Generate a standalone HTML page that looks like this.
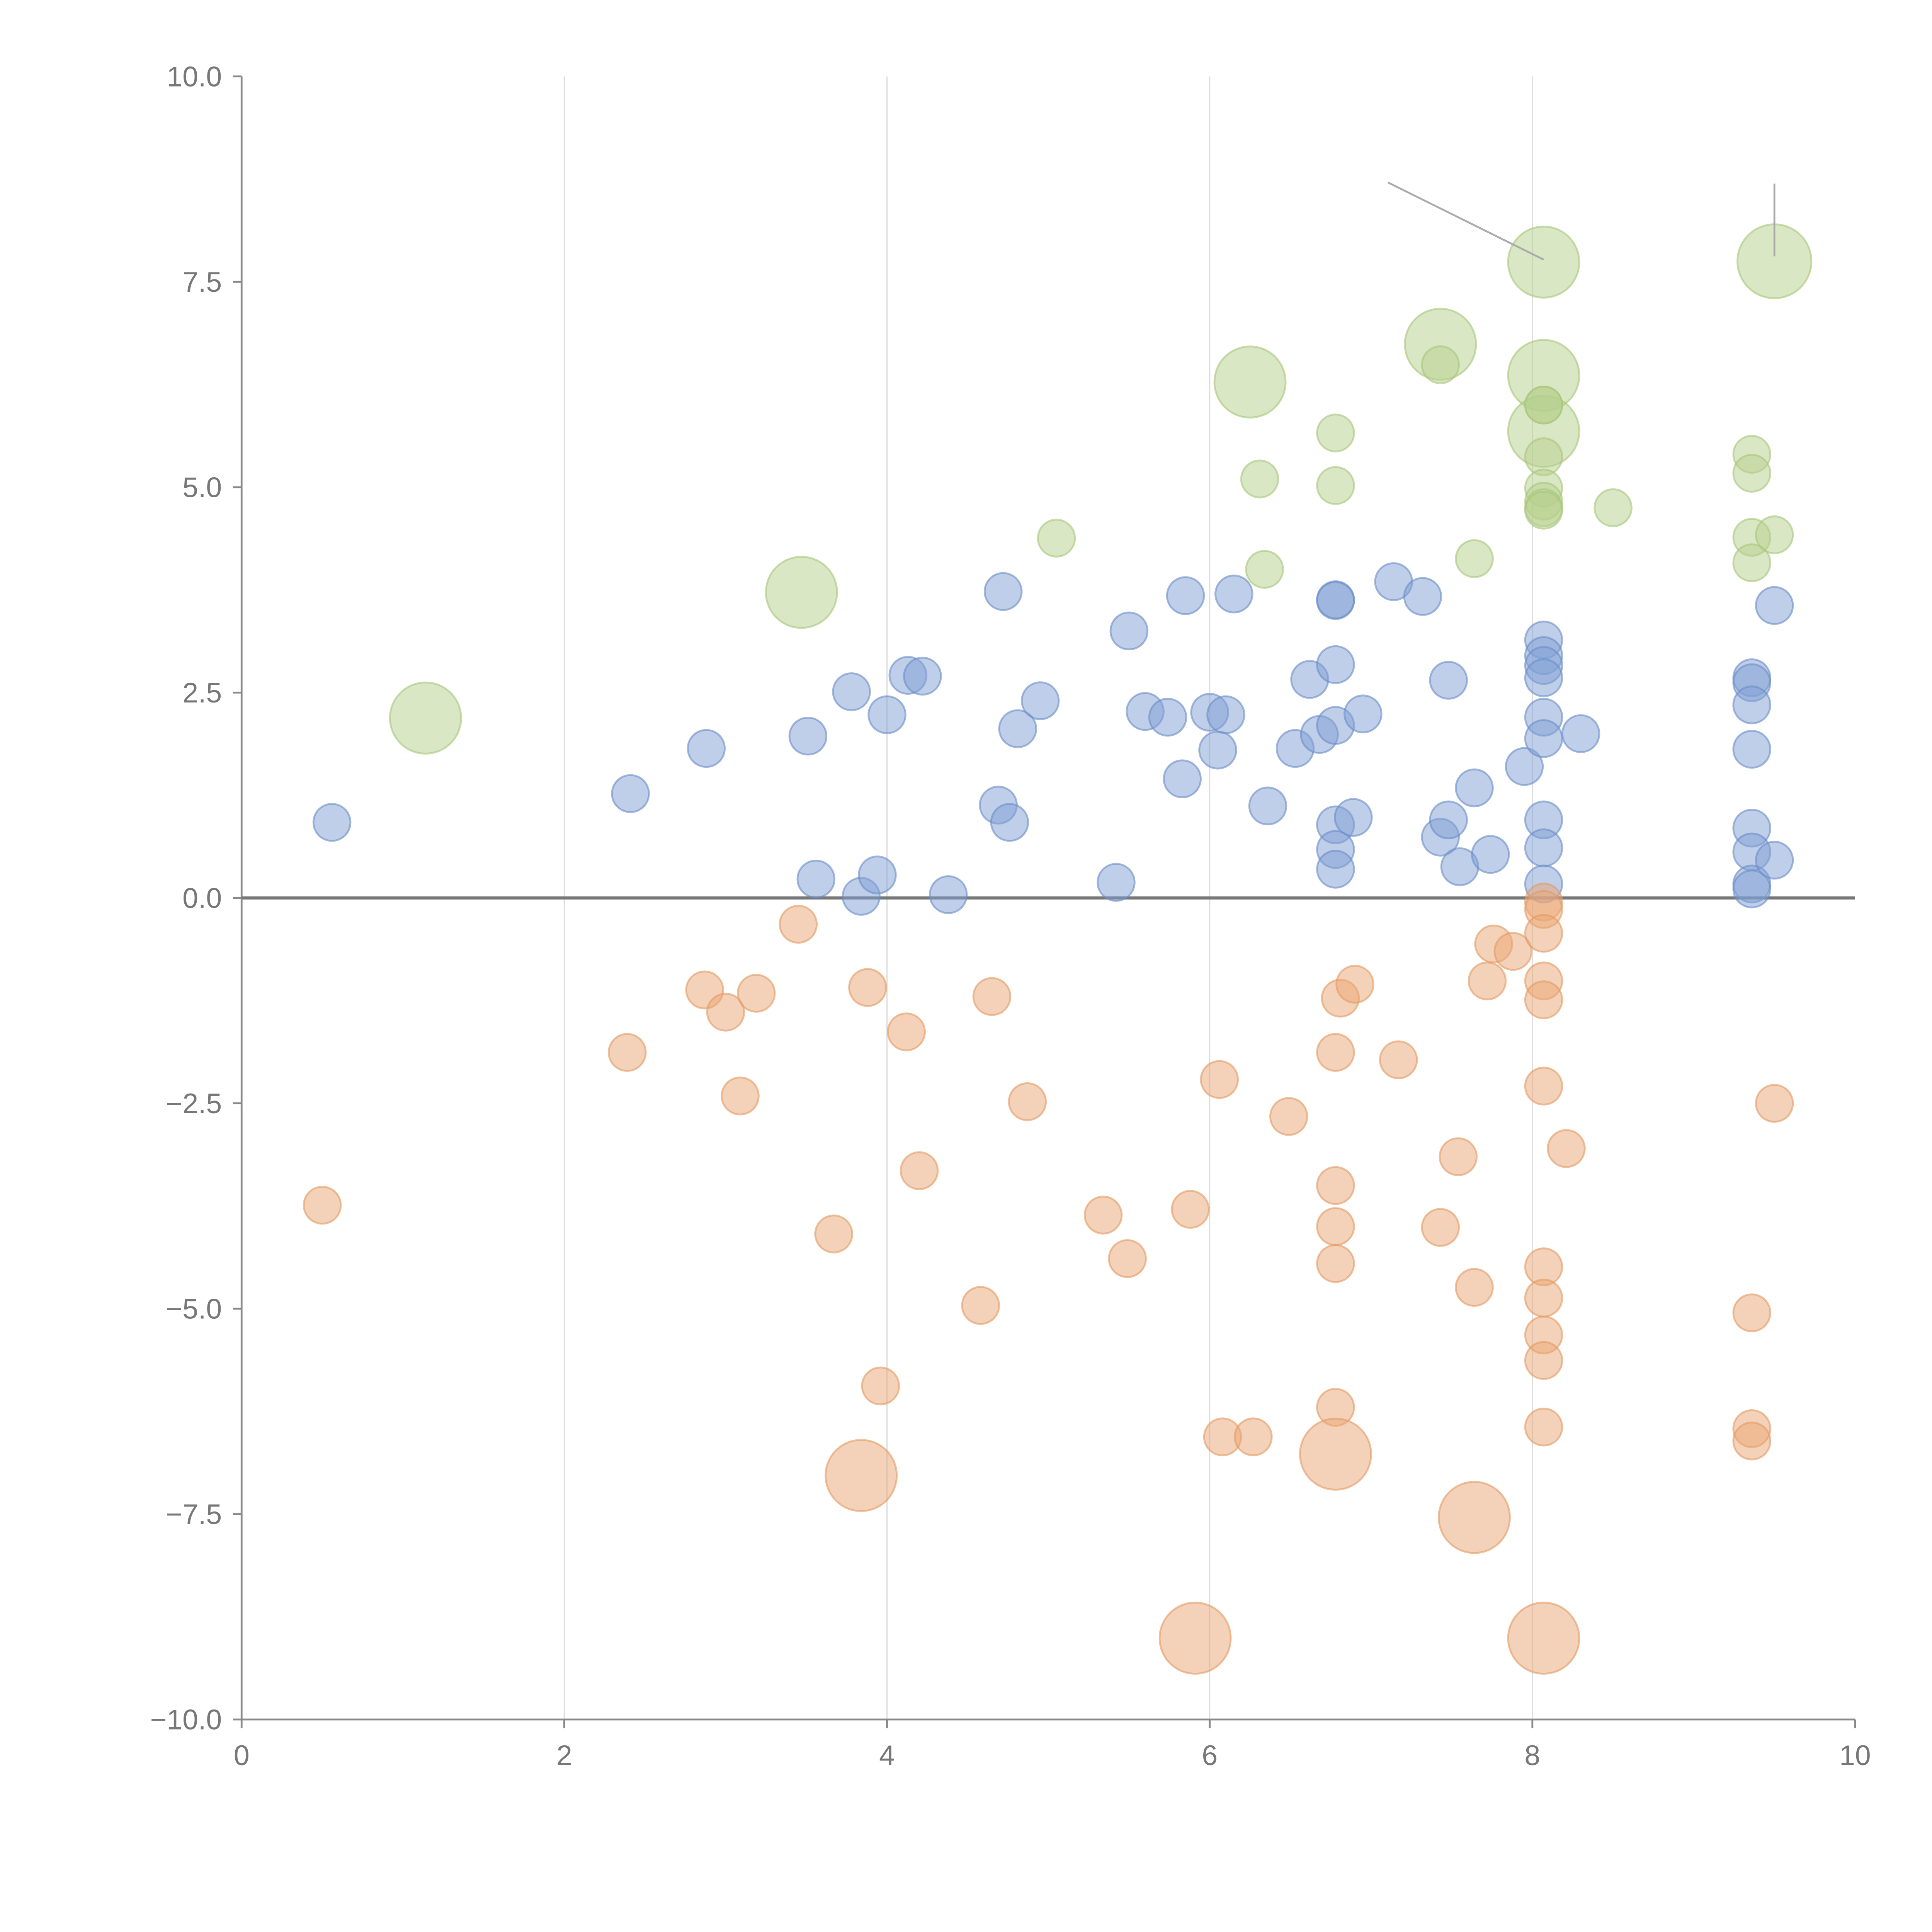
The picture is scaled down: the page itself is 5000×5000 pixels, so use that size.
<!DOCTYPE html>
<html><head><meta charset="utf-8"><style>
html,body{margin:0;padding:0;background:#fff;}
svg{display:block;}
text{font-family:"Liberation Sans",Arial,sans-serif;fill:#777;}
</style></head><body>
<svg id="chart" width="5000" height="5000" viewBox="0 0 1567.4 1567.4" xmlns="http://www.w3.org/2000/svg">
<g id="grid"></g>
<g id="axes"></g>
<g id="marks"></g>
<g id="annot"></g>
</svg>
<script>
const xTicks=[0,2,4,6,8,10];
const yTicks=[10,7.5,5,2.5,0,-2.5,-5,-7.5,-10];
const yTickLabels=["10.0","7.5","5.0","2.5","0.0","\u22122.5","\u22125.0","\u22127.5","\u221210.0"];

const blueX=[0.56,2.41,2.88,3.51,3.78,4.0,4.13,4.22,3.56,3.84,3.94,4.38,4.72,4.69,4.76,4.81,4.95,5.5,5.42,5.6,5.74,5.83,5.85,6.0,6.1,6.05,6.15,6.36,6.53,6.62,6.68,6.78,6.78,6.78,6.78,6.78,6.78,6.78,6.89,6.95,7.14,7.32,7.43,7.48,7.48,7.55,7.64,7.74,7.95,8.07,8.07,8.07,8.07,8.07,8.07,8.07,8.07,8.07,8.30,9.36,9.36,9.36,9.36,9.36,9.36,9.36,9.36,9.50,9.50];
const blueY=[0.92,1.27,1.82,1.97,2.51,2.23,2.71,2.70,0.23,0.02,0.28,0.04,3.73,1.13,0.92,2.06,2.40,3.25,0.19,2.27,2.20,1.45,3.68,2.26,2.23,1.80,3.70,1.12,1.82,2.66,1.99,2.84,2.10,3.63,3.62,0.89,0.59,0.35,0.98,2.24,3.85,3.67,0.74,2.65,0.95,0.38,1.34,0.53,1.60,3.14,2.95,2.83,2.68,2.20,1.94,0.95,0.61,0.17,2.0,2.68,2.62,2.35,1.81,0.85,0.56,0.17,0.11,3.56,0.46];

const orangeX=[0.5,2.39,2.87,3.0,3.19,3.09,3.45,3.88,3.67,4.12,4.20,3.96,3.84,4.58,4.65,4.87,5.34,5.49,5.88,5.91,6.06,6.08,6.27,6.49,6.78,6.81,6.90,6.78,6.78,6.78,6.78,6.78,7.17,7.43,7.54,7.64,7.64,7.72,7.76,7.88,8.07,8.07,8.07,8.07,8.07,8.07,8.07,8.07,8.07,8.07,8.07,8.07,8.21,9.36,9.36,9.36,9.50];
const orangeY=[-3.74,-1.88,-1.12,-1.39,-1.16,-2.41,-0.32,-1.09,-4.09,-1.63,-3.32,-5.94,-7.03,-4.96,-1.20,-2.48,-3.86,-4.39,-3.79,-9.01,-2.21,-6.56,-6.56,-2.66,-1.88,-1.22,-1.05,-3.50,-4.0,-4.45,-6.20,-6.77,-1.97,-4.01,-3.15,-4.74,-7.54,-1.01,-0.56,-0.65,-0.05,-0.14,-0.43,-1.01,-1.24,-2.29,-4.49,-4.87,-5.32,-5.63,-6.44,-9.01,-3.05,-5.05,-6.46,-6.61,-2.50];
const orangeS=[1,1,1,1,1,1,1,1,1,1,1,1,3.7,1,1,1,1,1,1,3.7,1,1,1,1,1,1,1,1,1,1,1,3.7,1,1,1,1,3.7,1,1,1,1,1,1,1,1,1,1,1,1,1,1,3.7,1,1,1,1,1];

const greenX=[1.14,3.47,5.05,6.25,6.31,6.34,6.78,6.78,7.43,7.43,7.64,8.07,8.07,8.07,8.07,8.07,8.07,8.07,8.07,8.07,8.07,8.50,9.36,9.36,9.36,9.36,9.50,9.50];
const greenY=[2.19,3.72,4.38,6.28,5.10,4.0,5.66,5.02,6.74,6.49,4.13,7.74,6.36,5.68,6.0,6.0,5.37,4.99,4.83,4.75,4.72,4.75,5.40,5.17,4.39,4.08,4.42,7.75];
const greenS=[3.7,3.7,1,3.7,1,1,1,1,3.7,1,1,3.7,3.7,3.7,1,1,1,1,1,1,1,1,1,1,1,1,1,4];

const X0=196,X1=1505,Y0=62,Y1=1395;
function sx(v){return X0+(v-0)/(10-0)*(X1-X0);}
function sy(v){return Y1-(v+10)/20*(Y1-Y0);}
const NS="http://www.w3.org/2000/svg";
function mk(tag,attrs,parent){const e=document.createElementNS(NS,tag);for(const k in attrs)e.setAttribute(k,attrs[k]);parent.appendChild(e);return e;}
const grid=document.getElementById('grid'),axes=document.getElementById('axes'),marks=document.getElementById('marks'),annot=document.getElementById('annot');

xTicks.forEach(t=>{
  if(t>0&&t<10){const g=mk('line',{x1:sx(t),x2:sx(t),y1:Y0,y2:Y1,stroke:'#ddd','stroke-width':1},grid);
  
  }
  const tk=mk('line',{x1:sx(t),x2:sx(t),y1:Y1,y2:Y1+7,stroke:'#888','stroke-width':1.5},axes);
  
  
  const tx=mk('text',{x:sx(t),y:Y1+37,'text-anchor':'middle','font-size':23},axes);
  tx.textContent=String(t);
  
  
});
yTicks.forEach((t,i)=>{
  const tk=mk('line',{x1:X0-7,x2:X0,y1:sy(t),y2:sy(t),stroke:'#888','stroke-width':1.5},axes);
  
  
  const tx=mk('text',{x:X0-16,y:sy(t)+8,'text-anchor':'end','font-size':23},axes);
  tx.textContent=yTickLabels[i];
  
  
});
const ya=mk('line',{x1:X0,x2:X0,y1:Y0,y2:Y1,stroke:'#888','stroke-width':1.5},axes);


const xa=mk('line',{x1:X0,x2:X1,y1:Y1,y2:Y1,stroke:'#888','stroke-width':1.5},axes);



function series(xs,ys,ss,fill,stroke,name){
  xs.forEach((x,i)=>{
    const s=ss?ss[i]:1;
    const c=mk('circle',{cx:sx(x),cy:sy(ys[i]),r:15*Math.sqrt(s),fill:fill,'fill-opacity':0.5,stroke:stroke,'stroke-opacity':0.6,'stroke-width':1.5},marks);
    
    
  });
}
series(blueX,blueY,null,'#7f9fd3','#6a8cc8','blue-bubble');
series(orangeX,orangeY,orangeS,'#eaa674','#e39a62','orange-bubble');
series(greenX,greenY,greenS,'#b6d08c','#a6c67a','green-bubble');

const zl=mk('line',{x1:X0,x2:X1,y1:sy(0),y2:sy(0),stroke:'#777','stroke-width':2.5},axes);



const a1=mk('line',{x1:1126,y1:148,x2:sx(8.07),y2:sy(7.74)-2,stroke:'#aaa','stroke-width':1.5},annot);


const a2=mk('line',{x1:sx(9.5),y1:149,x2:sx(9.5),y2:sy(7.75)-4,stroke:'#aaa','stroke-width':1.5},annot);


</script>
</body></html>
